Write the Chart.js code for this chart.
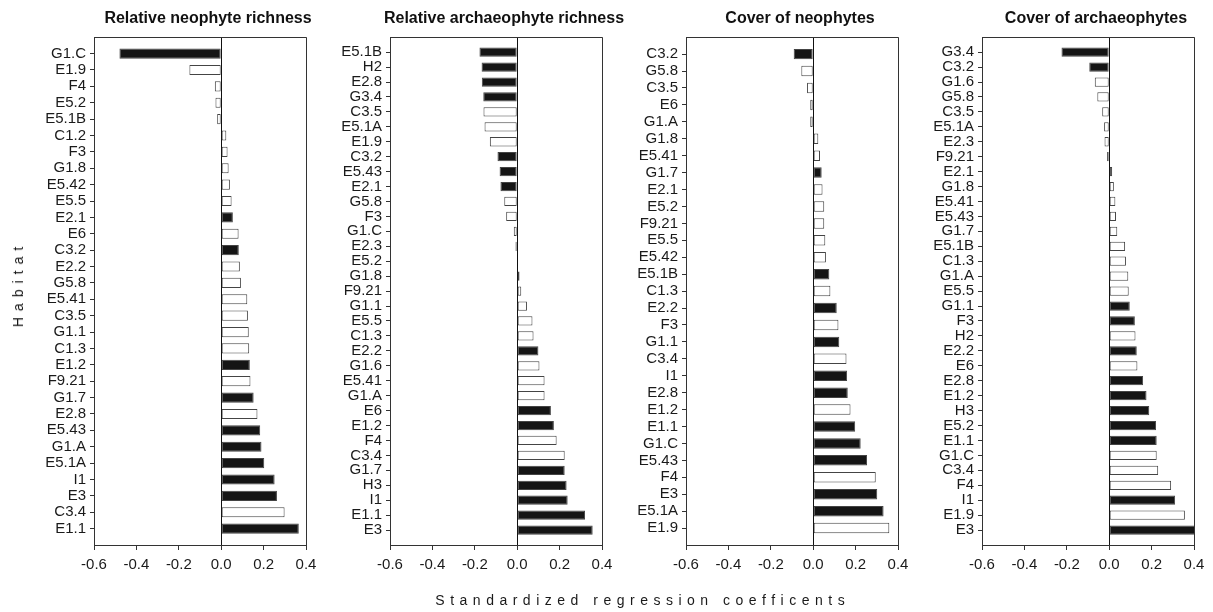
<!DOCTYPE html>
<html>
<head>
<meta charset="utf-8">
<script src="https://cdn.jsdelivr.net/npm/chart.js@4.4.1/dist/chart.umd.min.js"></script>
<style>
    html, body { margin: 0; padding: 0; background: #fff; }
    #wrap { position: relative; width: 1213px; height: 612px; overflow: hidden; background: #fff; }
    #wrap canvas { position: absolute; top: 0; }
    .axis-title {
        position: absolute;
        font-family: "Liberation Sans", Arial, sans-serif;
        font-size: 14px;
        color: #1a1a1a;
        white-space: nowrap;
    }
    #ytitle { left: 18px; top: 287px; letter-spacing: 6px; padding-left: 6px; transform: translate(-50%, -50%) rotate(-90deg); }
    #xtitle { left: 640px; top: 600px; letter-spacing: 5.5px; padding-left: 5.5px; transform: translate(-50%, -50%); }
</style>
</head>
<body>
<div id="wrap">
    <canvas id="c1" width="416" height="612" style="left:0px"></canvas>
    <canvas id="c2" width="416" height="612" style="left:296px"></canvas>
    <canvas id="c3" width="416" height="612" style="left:592px"></canvas>
    <canvas id="c4" width="416" height="612" style="left:888px"></canvas>
    <div id="ytitle" class="axis-title">Habitat</div>
    <div id="xtitle" class="axis-title">Standardized regression coefficents</div>
</div>
<script>
(function () {
    'use strict';

    // Relative neophyte richness
    var neoRichHabitats = ['G1.C', 'E1.9', 'F4', 'E5.2', 'E5.1B', 'C1.2', 'F3', 'G1.8', 'E5.42', 'E5.5',
        'E2.1', 'E6', 'C3.2', 'E2.2', 'G5.8', 'E5.41', 'C3.5', 'G1.1', 'C1.3', 'E1.2',
        'F9.21', 'G1.7', 'E2.8', 'E5.43', 'G1.A', 'E5.1A', 'I1', 'E3', 'C3.4', 'E1.1'];
    var neoRichValues = [-0.48, -0.15, -0.03, -0.027, -0.019, 0.024, 0.03, 0.035, 0.041, 0.049,
        0.055, 0.082, 0.083, 0.088, 0.093, 0.123, 0.126, 0.13, 0.132, 0.135,
        0.138, 0.153, 0.171, 0.184, 0.19, 0.203, 0.252, 0.263, 0.299, 0.366];
    var neoRichSig = [1, 0, 0, 0, 0, 0, 0, 0, 0, 0,
        1, 0, 1, 0, 0, 0, 0, 0, 0, 1,
        0, 1, 0, 1, 1, 1, 1, 1, 0, 1];

    // Relative archaeophyte richness
    var archRichHabitats = ['E5.1B', 'H2', 'E2.8', 'G3.4', 'C3.5', 'E5.1A', 'E1.9', 'C3.2', 'E5.43', 'E2.1',
        'G5.8', 'F3', 'G1.C', 'E2.3', 'E5.2', 'G1.8', 'F9.21', 'G1.1', 'E5.5', 'C1.3',
        'E2.2', 'G1.6', 'E5.41', 'G1.A', 'E6', 'E1.2', 'F4', 'C3.4', 'G1.7', 'H3',
        'I1', 'E1.1', 'E3'];
    var archRichValues = [-0.178, -0.168, -0.167, -0.16, -0.159, -0.154, -0.129, -0.093, -0.083, -0.079,
        -0.061, -0.052, -0.016, -0.008, 0.002, 0.011, 0.019, 0.046, 0.072, 0.077,
        0.1, 0.105, 0.129, 0.129, 0.159, 0.173, 0.186, 0.224, 0.224, 0.233,
        0.238, 0.32, 0.356];
    var archRichSig = [1, 1, 1, 1, 0, 0, 0, 1, 1, 1,
        0, 0, 0, 1, 0, 0, 0, 0, 0, 0,
        1, 0, 0, 0, 1, 1, 0, 0, 1, 1,
        1, 1, 1];

    // Cover of neophytes
    var neoCoverHabitats = ['C3.2', 'G5.8', 'C3.5', 'E6', 'G1.A', 'G1.8', 'E5.41', 'G1.7', 'E2.1', 'E5.2',
        'F9.21', 'E5.5', 'E5.42', 'E5.1B', 'C1.3', 'E2.2', 'F3', 'G1.1', 'C3.4', 'I1',
        'E2.8', 'E1.2', 'E1.1', 'G1.C', 'E5.43', 'F4', 'E3', 'E5.1A', 'E1.9'];
    var neoCoverValues = [-0.092, -0.056, -0.029, -0.014, -0.014, 0.024, 0.032, 0.04, 0.044, 0.052,
        0.052, 0.057, 0.06, 0.076, 0.081, 0.111, 0.119, 0.123, 0.157, 0.16,
        0.163, 0.176, 0.198, 0.224, 0.254, 0.295, 0.302, 0.332, 0.359];
    var neoCoverSig = [1, 0, 0, 0, 0, 0, 0, 1, 0, 0,
        0, 0, 0, 1, 0, 1, 0, 1, 0, 1,
        1, 0, 1, 1, 1, 0, 1, 1, 0];

    // Cover of archaeophytes
    var archCoverHabitats = ['G3.4', 'C3.2', 'G1.6', 'G5.8', 'C3.5', 'E5.1A', 'E2.3', 'F9.21', 'E2.1', 'G1.8',
        'E5.41', 'E5.43', 'G1.7', 'E5.1B', 'C1.3', 'G1.A', 'E5.5', 'G1.1', 'F3', 'H2',
        'E2.2', 'E6', 'E2.8', 'E1.2', 'H3', 'E5.2', 'E1.1', 'G1.C', 'C3.4', 'F4',
        'I1', 'E1.9', 'E3'];
    var archCoverValues = [-0.225, -0.094, -0.068, -0.056, -0.033, -0.024, -0.022, -0.01, 0.014, 0.022,
        0.029, 0.032, 0.038, 0.075, 0.079, 0.09, 0.092, 0.097, 0.121, 0.124,
        0.13, 0.133, 0.16, 0.176, 0.189, 0.221, 0.224, 0.224, 0.231, 0.292,
        0.311, 0.357, 0.405];
    var archCoverSig = [1, 1, 0, 0, 0, 0, 0, 0, 1, 0,
        0, 0, 0, 0, 0, 0, 0, 1, 1, 0,
        1, 0, 1, 1, 1, 1, 1, 0, 0, 0,
        1, 0, 1];

    var xTicks = [-0.6, -0.4, -0.2, 0.0, 0.2, 0.4];

    var AXIS_W = 94;     // label column left of each plot
    var RIGHT_W = 110;   // empty column right of the plot (sets where the title centres)
    var LINE = '#333';

    Chart.defaults.font.family = '"Liberation Sans", Arial, sans-serif';
    Chart.defaults.color = '#1a1a1a';

    makePanel('c1', 'Relative neophyte richness', neoRichHabitats, neoRichValues, neoRichSig);
    makePanel('c2', 'Relative archaeophyte richness', archRichHabitats, archRichValues, archRichSig);
    makePanel('c3', 'Cover of neophytes', neoCoverHabitats, neoCoverValues, neoCoverSig);
    makePanel('c4', 'Cover of archaeophytes', archCoverHabitats, archCoverValues, archCoverSig);

    function makePanel(id, title, habitats, values, sig) {
        // blank slot at each end so the rows sit one step inside the frame
        var labels = [''].concat(habitats, ['']);
        var data = [null].concat(values, [null]);
        var fills = ['#fff'].concat(sig.map(function (s) { return s ? '#151515' : '#fff'; }), ['#fff']);
        var last = labels.length - 1;

        function isEdge(ctx) {
            return ctx.index === 0 || ctx.index === last;
        }

        return new Chart(document.getElementById(id), {
            type: 'bar',
            data: {
                labels: labels,
                datasets: [{
                    data: data,
                    backgroundColor: fills,
                    borderColor: '#444',
                    borderWidth: 1,
                    borderSkipped: false,
                    categoryPercentage: 1,
                    barPercentage: 0.62
                }]
            },
            options: {
                indexAxis: 'y',
                responsive: false,
                animation: false,
                layout: { padding: { left: 0, right: 0, top: 0, bottom: 27 } },
                plugins: {
                    legend: { display: false },
                    tooltip: { enabled: false },
                    title: {
                        display: true,
                        text: title,
                        color: '#111',
                        font: { size: 16, weight: 'bold' },
                        padding: { top: 9, bottom: 9 }
                    }
                },
                scales: {
                    x: {
                        type: 'linear',
                        min: xTicks[0],
                        max: xTicks[xTicks.length - 1],
                        afterBuildTicks: function (scale) {
                            scale.ticks = xTicks.map(function (v) { return { value: v }; });
                        },
                        afterFit: function (scale) { scale.height = 40; },
                        border: { display: true, color: LINE, width: 1 },
                        grid: {
                            color: function (ctx) {
                                var v = ctx.tick ? ctx.tick.value : null;
                                if (v === 0) return '#111';
                                if (v === xTicks[0] || v === xTicks[xTicks.length - 1]) return LINE;
                                return 'rgba(0,0,0,0)';
                            },
                            tickColor: LINE,
                            tickLength: 5,
                            lineWidth: 1
                        },
                        ticks: {
                            padding: 6,
                            font: { size: 15 },
                            color: '#1a1a1a',
                            callback: function (v) { return (Math.round(v * 10) / 10).toFixed(1); }
                        }
                    },
                    y: {
                        type: 'category',
                        offset: false,
                        afterFit: function (scale) { scale.width = AXIS_W; },
                        border: { display: true, color: LINE, width: 1 },
                        grid: {
                            offset: false,
                            color: function (ctx) { return isEdge(ctx) ? LINE : 'rgba(0,0,0,0)'; },
                            tickColor: function (ctx) { return isEdge(ctx) ? 'rgba(0,0,0,0)' : LINE; },
                            tickLength: 4,
                            lineWidth: 1
                        },
                        ticks: {
                            autoSkip: false,
                            padding: 4,
                            font: { size: 15, lineHeight: 1 },
                            color: '#1a1a1a'
                        }
                    },
                    // empty right-hand column, only used for spacing
                    yRight: {
                        type: 'category',
                        position: 'right',
                        offset: false,
                        afterFit: function (scale) { scale.width = RIGHT_W; },
                        border: { display: false },
                        grid: { display: false },
                        ticks: { display: false }
                    }
                }
            }
        });
    }
})();
</script>
</body>
</html>
